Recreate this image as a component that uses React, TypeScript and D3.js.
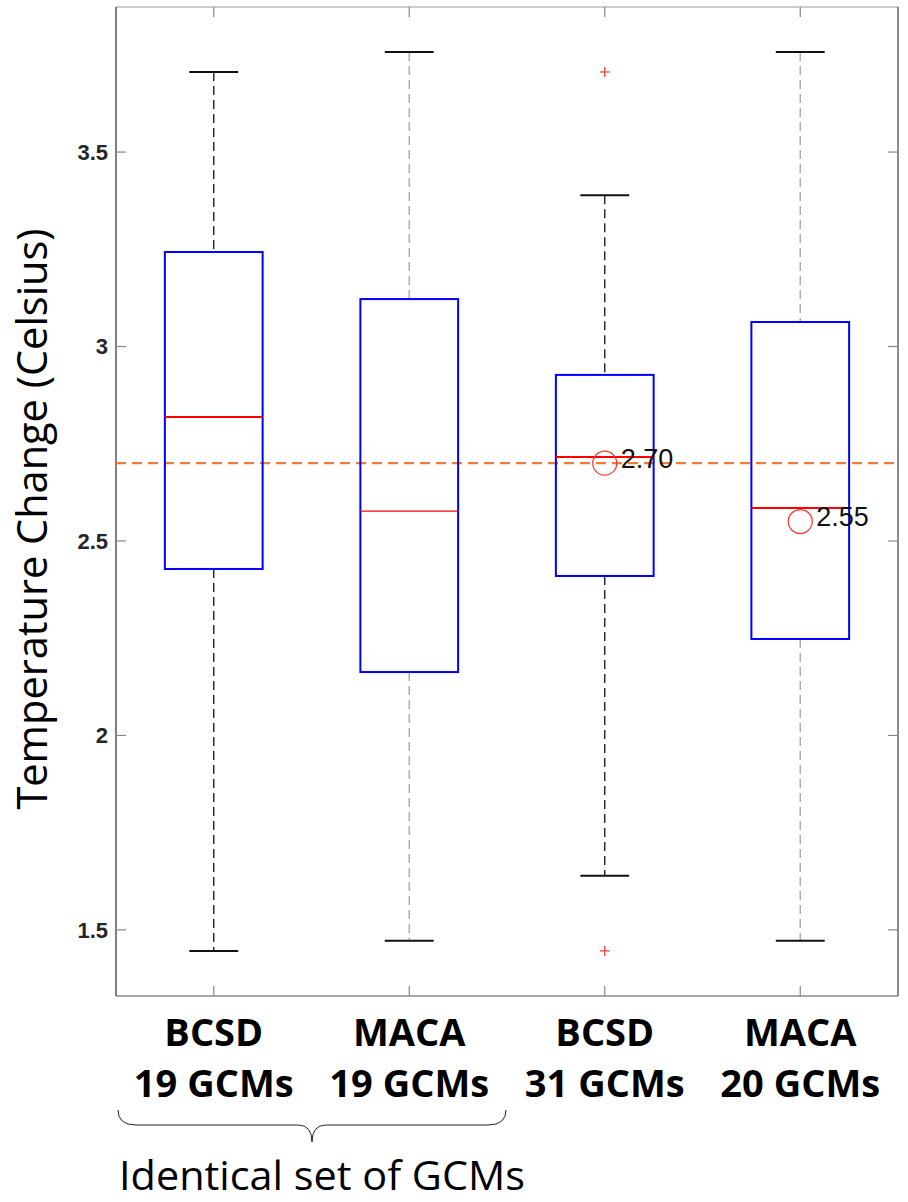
import * as d3 from 'd3'

// box statistics (Celsius)
const groups = ['BCSD 19', 'MACA 19', 'BCSD 31', 'MACA 20']
const labelTop = ['BCSD', 'MACA', 'BCSD', 'MACA']
const labelBottom = ['19 GCMs', '19 GCMs', '31 GCMs', '20 GCMs']
const whiskerHigh = [3.706, 3.757, 3.389, 3.757]
const q3 = [3.243, 3.122, 2.927, 3.063]
const median = [2.819, 2.577, 2.716, 2.585]
const q1 = [2.428, 2.163, 2.41, 2.248]
const whiskerLow = [1.446, 1.472, 1.639, 1.472]
const outliers = [[], [], [3.706, 1.446], []]
const marked = [null, null, 2.7, 2.55]
const refLine = 2.7
const yTicks = [1.5, 2, 2.5, 3, 3.5]

const W = 908
const H = 1202
const PLOT = { left: 116, right: 898, top: 7, bottom: 996 }

export default function App() {
  const x = d3.scaleBand().domain(groups).range([PLOT.left, PLOT.right]).padding(0)
  const y = d3.scaleLinear().domain([1.33, 3.873]).range([PLOT.bottom, PLOT.top])
  const bw = x.bandwidth()
  const cx = (i: number) => (x(groups[i]) as number) + bw / 2
  const whiskerColor = ['#222', '#aaa', '#222', '#aaa']

  // curly brace under the first two groups
  const bx0 = 118, bx1 = 506, by0 = 1110, by1 = 1142
  const bm = (bx0 + bx1) / 2
  const brace = `M${bx0},${by0} Q${bx0},${by0 + 15} ${bx0 + 18},${by0 + 15} L${bm - 14},${by0 + 15} Q${bm},${by0 + 15} ${bm},${by1} Q${bm},${by0 + 15} ${bm + 14},${by0 + 15} L${bx1 - 18},${by0 + 15} Q${bx1},${by0 + 15} ${bx1},${by0}`

  return (
    <svg width={W} height={H} style={{ position: 'absolute', left: 0, top: 0, background: '#fff' }}>
      {/* frame */}
      <line x1={PLOT.left} x2={PLOT.right} y1={PLOT.top} y2={PLOT.top} stroke="#bbb" strokeWidth={1.5} />
      <line x1={PLOT.left} x2={PLOT.right} y1={PLOT.bottom} y2={PLOT.bottom} stroke="#888" strokeWidth={1.5} />
      <line x1={PLOT.left} x2={PLOT.left} y1={PLOT.top} y2={PLOT.bottom} stroke="#555" strokeWidth={1.5} />
      <line x1={PLOT.right} x2={PLOT.right} y1={PLOT.top} y2={PLOT.bottom} stroke="#666" strokeWidth={1.5} />

      {/* y ticks */}
      {yTicks.map(t => (
        <g key={t}>
          <line x1={PLOT.left} x2={PLOT.left + 10} y1={y(t)} y2={y(t)} stroke="#888" strokeWidth={1.2} />
          <line x1={PLOT.right - 10} x2={PLOT.right} y1={y(t)} y2={y(t)} stroke="#888" strokeWidth={1.2} />
          <text x={PLOT.left - 8} y={y(t)} dy="0.36em" textAnchor="end" fontFamily="Liberation Sans" fontWeight="bold" fontSize={22} fill="#262626">
            {t}
          </text>
        </g>
      ))}

      {/* x ticks */}
      {groups.map((g, i) => (
        <g key={g}>
          <line x1={cx(i)} x2={cx(i)} y1={PLOT.top} y2={PLOT.top + 10} stroke="#888" strokeWidth={1.2} />
          <line x1={cx(i)} x2={cx(i)} y1={PLOT.bottom - 10} y2={PLOT.bottom} stroke="#888" strokeWidth={1.2} />
        </g>
      ))}

      {/* reference line */}
      <line x1={PLOT.left} x2={PLOT.right} y1={y(refLine)} y2={y(refLine)} stroke="#ED7D31" strokeWidth={2.3} strokeDasharray="10,6" />

      {/* boxes */}
      {groups.map((g, i) => {
        const c = cx(i)
        return (
          <g key={g}>
            <line x1={c} x2={c} y1={y(whiskerHigh[i])} y2={y(q3[i])} stroke={whiskerColor[i]} strokeWidth={1.4} strokeDasharray="9,5" />
            <line x1={c} x2={c} y1={y(q1[i])} y2={y(whiskerLow[i])} stroke={whiskerColor[i]} strokeWidth={1.4} strokeDasharray="9,5" />
            <line x1={c - bw / 8} x2={c + bw / 8} y1={y(whiskerHigh[i])} y2={y(whiskerHigh[i])} stroke="#111" strokeWidth={2} />
            <line x1={c - bw / 8} x2={c + bw / 8} y1={y(whiskerLow[i])} y2={y(whiskerLow[i])} stroke="#111" strokeWidth={2} />
            <rect x={c - bw / 4} y={y(q3[i])} width={bw / 2} height={y(q1[i]) - y(q3[i])} fill="none" stroke="#0000ff" strokeWidth={2} />
            <line x1={c - bw / 4} x2={c + bw / 4} y1={y(median[i])} y2={y(median[i])} stroke="#ff0000" strokeWidth={i === 1 ? 1.3 : 2} />
            {outliers[i].map((o, k) => (
              <g key={k} stroke="#ff3030" strokeWidth={1.2}>
                <line x1={c - 5} x2={c + 5} y1={y(o)} y2={y(o)} />
                <line x1={c} x2={c} y1={y(o) - 5} y2={y(o) + 5} />
              </g>
            ))}
            {marked[i] != null && (
              <g>
                <circle cx={c} cy={y(marked[i] as number)} r={12} fill="none" stroke="#ff3030" strokeWidth={1.2} />
                <text x={c + 16} y={y(marked[i] as number) - 5} dy="0.36em" fontFamily="Liberation Sans" fontSize={27} fill="#111">
                  {(marked[i] as number).toFixed(2)}
                </text>
              </g>
            )}
          </g>
        )
      })}

      {/* y-axis title */}
      <text transform={`translate(47, 519) rotate(-90)`} textAnchor="middle" fontFamily="Open Sans" fontSize={41.5} fill="#000">
        Temperature Change (Celsius)
      </text>

      {/* category labels */}
      {groups.map((g, i) => (
        <g key={g} fontFamily="Open Sans" fontWeight="bold" fontSize={38} fill="#000" textAnchor="middle">
          <text x={cx(i)} y={1046}>{labelTop[i]}</text>
          <text x={cx(i)} y={1097}>{labelBottom[i]}</text>
        </g>
      ))}

      <path d={brace} fill="none" stroke="#222" strokeWidth={1} />
      <text x={119} y={1190} fontFamily="Open Sans" fontSize={40} textLength={406} lengthAdjust="spacingAndGlyphs" fill="#000">Identical set of GCMs</text>
    </svg>
  )
}
